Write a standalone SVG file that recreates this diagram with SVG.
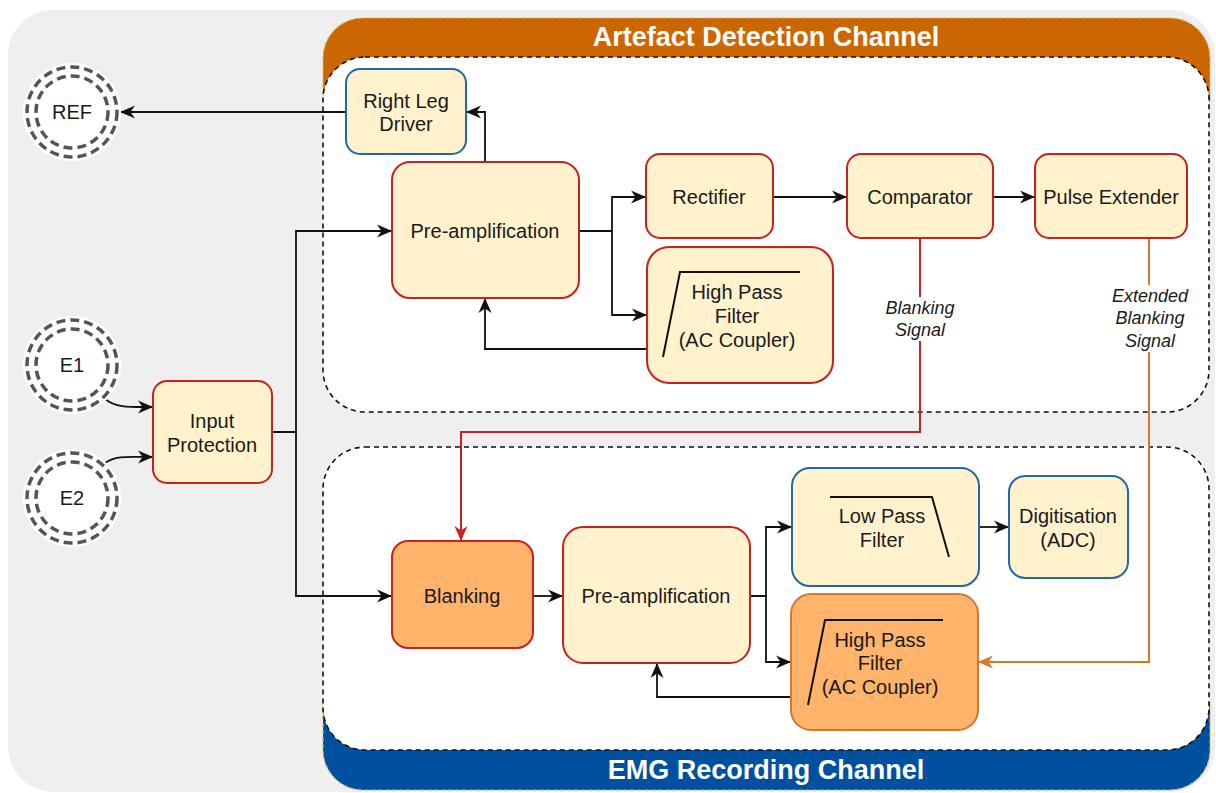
<svg xmlns="http://www.w3.org/2000/svg" width="1216" height="793" viewBox="0 0 1216 793">
<defs>
<style>
text{font-family:"Liberation Sans",Arial,sans-serif;fill:#1a1a1a;text-anchor:middle;dominant-baseline:central}
.t{font-size:20px}
.lab{font-size:18px;font-style:italic}
.title{font-size:27px;font-weight:bold;fill:#ffffff}
.box{fill:#FFF2CC;stroke:#CC1F1F;stroke-width:2}
.blue{fill:#FFF2CC;stroke:#2466AC;stroke-width:2}
.org{fill:#FFB36B;stroke:#CC1F1F;stroke-width:2}
.org2{fill:#FFB36B;stroke:#D6772C;stroke-width:2}
.chan{fill:#ffffff;stroke:#111;stroke-width:1.6;stroke-dasharray:5 4}
.bandline{fill:none;stroke:#D6B656;stroke-width:1.2;stroke-dasharray:4 3}
.c{fill:none;stroke:#111;stroke-width:1.8}
.sym{fill:none;stroke:#111;stroke-width:2}
.ring{fill:none;stroke:#555;stroke-width:3.5;stroke-dasharray:9 5}
</style>
<marker id="ab" viewBox="0 0 15 14" refX="14" refY="7" markerWidth="15" markerHeight="14" markerUnits="userSpaceOnUse" orient="auto"><path d="M0,0.5 L15,7 L0,13.5 L4.5,7 z" fill="#111"/></marker>
<marker id="ar" viewBox="0 0 15 14" refX="14" refY="7" markerWidth="15" markerHeight="14" markerUnits="userSpaceOnUse" orient="auto"><path d="M0,0.5 L15,7 L0,13.5 L4.5,7 z" fill="#CC1F1F"/></marker>
<marker id="ao" viewBox="0 0 15 14" refX="14" refY="7" markerWidth="15" markerHeight="14" markerUnits="userSpaceOnUse" orient="auto"><path d="M0,0.5 L15,7 L0,13.5 L4.5,7 z" fill="#D6772C"/></marker>
</defs>

<rect x="8" y="10" width="1207" height="782" rx="45" fill="#EFEFEF"/>

<g id="artefact-channel">
<path d="M323,102 V58 A40,40 0 0 1 363,18 H1170 A40,40 0 0 1 1210,58 V102 Z" fill="#CC6600"/>
<path class="bandline" d="M323,102 V58 A40,40 0 0 1 363,18 H1170 A40,40 0 0 1 1210,58 V102"/>
<rect class="chan" x="323" y="57" width="886" height="355" rx="42"/>
<text class="title" x="766" y="37">Artefact Detection Channel</text>
</g>
<g id="emg-channel">
<path d="M323,702 V750 A40,40 0 0 0 363,790 H1170 A40,40 0 0 0 1210,750 V702 Z" fill="#0050A0"/>
<path class="bandline" d="M323,702 V750 A40,40 0 0 0 363,790 H1170 A40,40 0 0 0 1210,750 V702"/>
<rect class="chan" x="323" y="447" width="886" height="303" rx="42"/>
<text class="title" x="766" y="770">EMG Recording Channel</text>
</g>

<g id="connectors">
<path class="c" d="M346,112 H121" marker-end="url(#ab)"/>
<path class="c" d="M485,162 V112 H467" marker-end="url(#ab)"/>
<path class="c" d="M105,399 C116,408 130,407 152,407" marker-end="url(#ab)"/>
<path class="c" d="M105,463 C116,455 130,457 152,457" marker-end="url(#ab)"/>
<path class="c" d="M272,432 H296 V231 H391" marker-end="url(#ab)"/>
<path class="c" d="M296,432 V596 H391" marker-end="url(#ab)"/>
<path class="c" d="M579,231 H612 V197 H645" marker-end="url(#ab)"/>
<path class="c" d="M612,231 V315 H646" marker-end="url(#ab)"/>
<path class="c" d="M647,349 H485 V299" marker-end="url(#ab)"/>
<path class="c" d="M773,197 H846" marker-end="url(#ab)"/>
<path class="c" d="M993,197 H1034" marker-end="url(#ab)"/>
<path d="M920,238 V432 H461 V540" fill="none" stroke="#CC1F1F" stroke-width="2" marker-end="url(#ar)"/>
<path d="M1149,238 V662 H979" fill="none" stroke="#D6772C" stroke-width="2" marker-end="url(#ao)"/>
<path class="c" d="M533,596 H562" marker-end="url(#ab)"/>
<path class="c" d="M750,596 H766 V527 H791" marker-end="url(#ab)"/>
<path class="c" d="M766,596 V662 H790" marker-end="url(#ab)"/>
<path class="c" d="M791,697 H657 V664" marker-end="url(#ab)"/>
<path class="c" d="M979,527 H1008" marker-end="url(#ab)"/>
<rect x="880" y="297" width="80" height="44" fill="#ffffff"/>
<text class="lab" x="920" y="308">Blanking</text>
<text class="lab" x="920" y="330">Signal</text>
<rect x="1105" y="285" width="90" height="67" fill="#ffffff"/>
<text class="lab" x="1150" y="296">Extended</text>
<text class="lab" x="1150" y="318">Blanking</text>
<text class="lab" x="1150" y="341">Signal</text>
</g>

<g id="ref">
<circle cx="72" cy="112" r="49" fill="#ffffff"/>
<circle class="ring" cx="72" cy="112" r="45"/>
<circle class="ring" cx="72" cy="112" r="36"/>
<text class="t" x="72" y="112">REF</text>
</g>
<g id="e1">
<circle cx="72" cy="365" r="49" fill="#ffffff"/>
<circle class="ring" cx="72" cy="365" r="45"/>
<circle class="ring" cx="72" cy="365" r="36"/>
<text class="t" x="72" y="365">E1</text>
</g>
<g id="e2">
<circle cx="72" cy="498" r="49" fill="#ffffff"/>
<circle class="ring" cx="72" cy="498" r="45"/>
<circle class="ring" cx="72" cy="498" r="36"/>
<text class="t" x="72" y="498">E2</text>
</g>

<g id="input-protection">
<rect class="box" x="153" y="381" width="119" height="102" rx="14"/>
<text class="t" x="212" y="421">Input</text>
<text class="t" x="212" y="445">Protection</text>
</g>
<g id="right-leg-driver">
<rect class="blue" x="346" y="69" width="120" height="85" rx="14"/>
<text class="t" x="406" y="101">Right Leg</text>
<text class="t" x="406" y="124">Driver</text>
</g>
<g id="preamp-top">
<rect class="box" x="392" y="162" width="187" height="136" rx="18"/>
<text class="t" x="485" y="231">Pre-amplification</text>
</g>
<g id="rectifier">
<rect class="box" x="646" y="154" width="127" height="84" rx="14"/>
<text class="t" x="709" y="197">Rectifier</text>
</g>
<g id="comparator">
<rect class="box" x="847" y="154" width="146" height="84" rx="14"/>
<text class="t" x="920" y="197">Comparator</text>
</g>
<g id="pulse-extender">
<rect class="box" x="1035" y="154" width="152" height="84" rx="14"/>
<text class="t" x="1111" y="197">Pulse Extender</text>
</g>
<g id="hpf-top">
<rect class="box" x="647" y="247" width="186" height="136" rx="22"/>
<path class="sym" d="M663,357 L680,272 H800"/>
<text class="t" x="737" y="292">High Pass</text>
<text class="t" x="737" y="316">Filter</text>
<text class="t" x="737" y="340">(AC Coupler)</text>
</g>
<g id="blanking">
<rect class="org" x="392" y="541" width="141" height="107" rx="16"/>
<text class="t" x="462" y="596">Blanking</text>
</g>
<g id="preamp-bottom">
<rect class="box" x="563" y="527" width="187" height="136" rx="20"/>
<text class="t" x="656" y="596">Pre-amplification</text>
</g>
<g id="lpf">
<rect class="blue" x="792" y="468" width="187" height="118" rx="18"/>
<path class="sym" d="M830,497 H932 L949,557"/>
<text class="t" x="882" y="516">Low Pass</text>
<text class="t" x="882" y="540">Filter</text>
</g>
<g id="adc">
<rect class="blue" x="1009" y="476" width="119" height="102" rx="16"/>
<text class="t" x="1068" y="516">Digitisation</text>
<text class="t" x="1068" y="540">(ADC)</text>
</g>
<g id="hpf-bottom">
<rect class="org2" x="791" y="594" width="187" height="136" rx="20"/>
<path class="sym" d="M808,705 L825,620 H943"/>
<text class="t" x="880" y="640">High Pass</text>
<text class="t" x="880" y="663">Filter</text>
<text class="t" x="880" y="687">(AC Coupler)</text>
</g>
</svg>
